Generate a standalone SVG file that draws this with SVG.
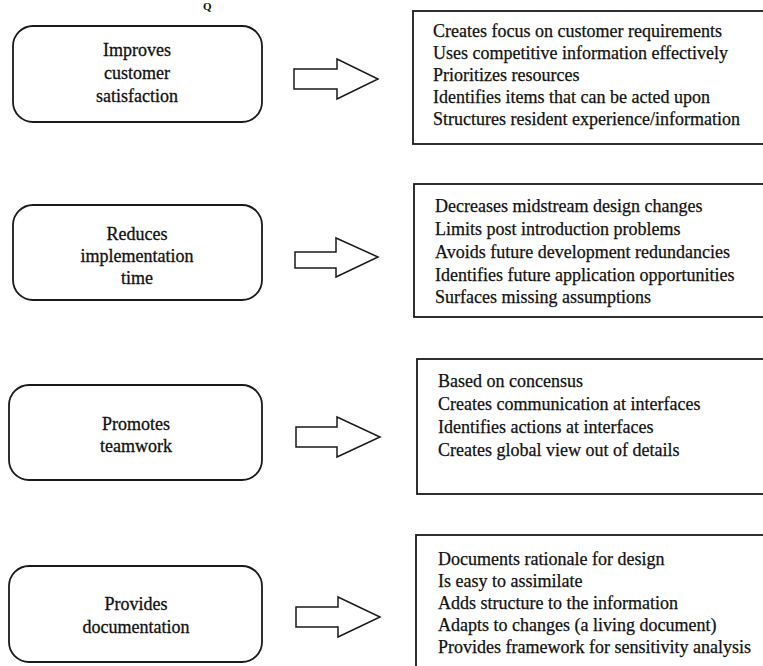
<svg xmlns="http://www.w3.org/2000/svg" width="763" height="666" viewBox="0 0 763 666">
<style>
.node rect.r{fill:none;stroke:#1a1a1a;stroke-width:1.8}
.list rect{fill:none;stroke:#1a1a1a;stroke-width:1.8}
.lbl{font-family:"Liberation Serif","Times New Roman",serif;font-size:18px;fill:#111;text-anchor:middle;stroke:#111;stroke-width:0.3}
.txt{font-family:"Liberation Serif","Times New Roman",serif;font-size:18px;fill:#111;stroke:#111;stroke-width:0.25}
.arrow{fill:#fff;stroke:#1a1a1a;stroke-width:1.5;stroke-linejoin:miter}
</style>
<rect x="0" y="0" width="763" height="666" fill="#fff"/>
<text x="203" y="10" style="font-family:'Liberation Serif',serif;font-size:11px;font-weight:bold;fill:#111">Q</text>

<g id="node-improves" class="node">
<rect class="r" x="13" y="26" width="249" height="96" rx="20"/>
<text class="lbl" x="137" y="56">Improves</text>
<text class="lbl" x="137" y="79">customer</text>
<text class="lbl" x="137" y="102">satisfaction</text>
</g>
<g id="list-improves" class="list">
<rect x="413" y="11" width="360" height="133"/>
<text class="txt" x="433" y="37">Creates focus on customer requirements</text>
<text class="txt" x="433" y="59">Uses competitive information effectively</text>
<text class="txt" x="433" y="81">Prioritizes resources</text>
<text class="txt" x="433" y="103">Identifies items that can be acted upon</text>
<text class="txt" x="433" y="125">Structures resident experience/information</text>
</g>

<g id="node-reduces" class="node">
<rect class="r" x="13" y="205" width="249" height="95" rx="20"/>
<text class="lbl" x="137" y="240">Reduces</text>
<text class="lbl" x="137" y="262">implementation</text>
<text class="lbl" x="137" y="284">time</text>
</g>
<g id="list-reduces" class="list">
<rect x="414" y="184" width="360" height="133"/>
<text class="txt" x="435" y="212">Decreases midstream design changes</text>
<text class="txt" x="435" y="235">Limits post introduction problems</text>
<text class="txt" x="435" y="258">Avoids future development redundancies</text>
<text class="txt" x="435" y="281">Identifies future application opportunities</text>
<text class="txt" x="435" y="303">Surfaces missing assumptions</text>
</g>

<g id="node-promotes" class="node">
<rect class="r" x="9" y="385" width="253" height="95" rx="20"/>
<text class="lbl" x="136" y="430">Promotes</text>
<text class="lbl" x="136" y="452">teamwork</text>
</g>
<g id="list-promotes" class="list">
<rect x="417" y="359" width="360" height="135"/>
<text class="txt" x="438" y="387">Based on concensus</text>
<text class="txt" x="438" y="410">Creates communication at interfaces</text>
<text class="txt" x="438" y="433">Identifies actions at interfaces</text>
<text class="txt" x="438" y="456">Creates global view out of details</text>
</g>

<g id="node-provides" class="node">
<rect class="r" x="9" y="566" width="253" height="96" rx="20"/>
<text class="lbl" x="136" y="610">Provides</text>
<text class="lbl" x="136" y="633">documentation</text>
</g>
<g id="list-provides" class="list">
<rect x="416" y="535" width="360" height="150"/>
<text class="txt" x="438" y="565">Documents rationale for design</text>
<text class="txt" x="438" y="587">Is easy to assimilate</text>
<text class="txt" x="438" y="609">Adds structure to the information</text>
<text class="txt" x="438" y="631">Adapts to changes (a living document)</text>
<text class="txt" x="438" y="653">Provides framework for sensitivity analysis</text>
</g>

<g id="connectors">
<polygon class="arrow" points="294,69 337,69 337,59 378,79 337,99 337,89 294,89"/>
<polygon class="arrow" points="295,252 336,252 336,238 378,257 336,277 336,268 295,268"/>
<polygon class="arrow" points="296,427 337,427 337,417 380,437 337,457 337,447 296,447"/>
<polygon class="arrow" points="296,607 338,607 338,597 380,617 338,637 338,627 296,627"/>
</g>
</svg>
